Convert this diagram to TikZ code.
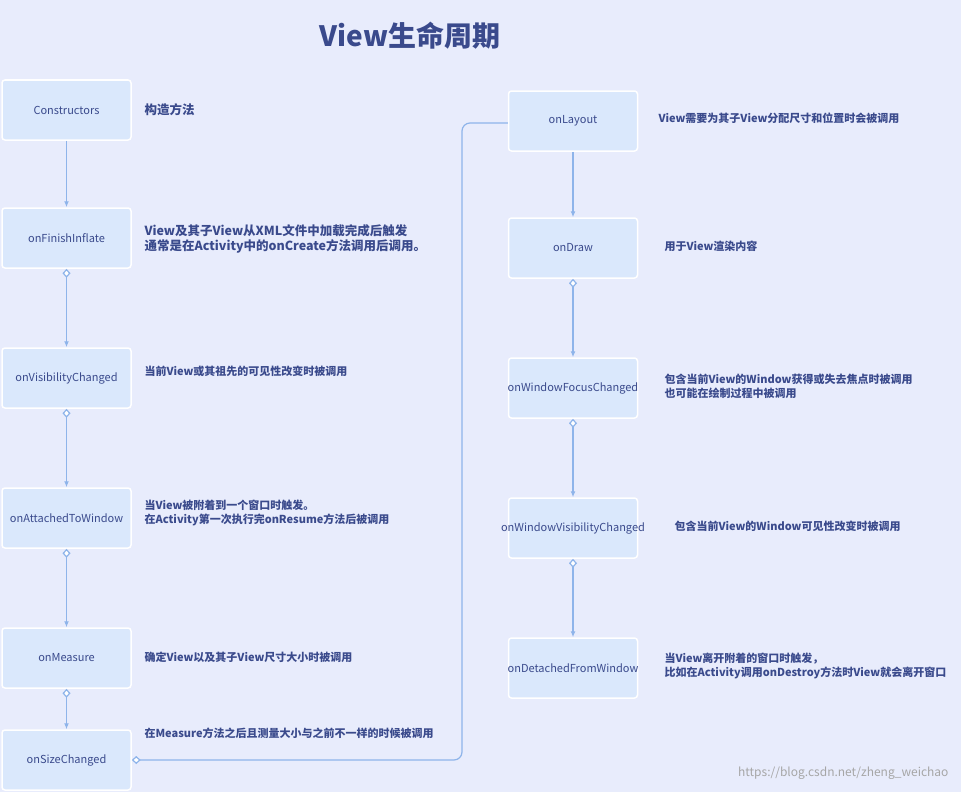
\documentclass[tikz,border=0pt]{standalone}
\usepackage{fontspec}
\setmainfont{Noto Sans CJK SC}
\usetikzlibrary{arrows.meta}
\definecolor{bgcol}{HTML}{E8ECFC}
\definecolor{boxcol}{HTML}{DAE8FC}
\definecolor{txtcol}{HTML}{3A4A8C}
\definecolor{linecol}{HTML}{8EB4EA}
\newcommand\stagetext[1]{\makebox[129pt][c]{#1}}
\tikzset{
  stage/.style={draw=white, line width=1.5pt, fill=boxcol, rounded corners=3pt,
    inner xsep=0pt, minimum width=129pt,
    minimum height=60pt, text=txtcol, font=\fontsize{11}{13}\selectfont},
  note/.style={anchor=west, align=left, text=txtcol, font=\fontsize{11}{14}\selectfont\bfseries},
  flow/.style={draw=linecol, line width=1.2pt, -{Latex[length=6pt,width=5pt]}},
  dflow/.style={flow, {Diamond[open,length=9pt,width=8pt,fill=white]}-{Latex[length=6pt,width=5pt]}},
}
\begin{document}
\begin{tikzpicture}[x=1pt,y=-1pt]
\fill[bgcol] (0,0) rectangle (961,792);
\useasboundingbox (0,0) rectangle (961,792);

\node[text=txtcol, font=\fontsize{28}{30}\selectfont\bfseries] (title) at (410,36) {View生命周期};

% left column
\node[stage] (ctor) at (66.5,110) {\stagetext{Constructors}};
\node[stage] (inflate) at (66.5,238) {\stagetext{onFinishInflate}};
\node[stage] (visible) at (66.5,378) {\stagetext{onVisibilityChanged}};
\node[stage] (attach) at (66.5,518) {\stagetext{onAttachedToWindow}};
\node[stage] (measure) at (66.5,658) {\stagetext{onMeasure}};
\node[stage] (size) at (66.5,760) {\stagetext{onSizeChanged}};

% right column
\node[stage] (layout) at (573,121) {\stagetext{onLayout}};
\node[stage] (draw) at (573,248) {\stagetext{onDraw}};
\node[stage] (focus) at (573,388) {\stagetext{onWindowFocusChanged}};
\node[stage] (winvis) at (573,528) {\stagetext{onWindowVisibilityChanged}};
\node[stage] (detach) at (573,668) {\stagetext{onDetachedFromWindow}};

% notes
\node[note, font=\fontsize{12.5}{15}\selectfont\bfseries] (nctor) at (141,110) {构造方法};
\node[note, font=\fontsize{12.5}{15}\selectfont\bfseries] (ninflate) at (141,239) {View及其子View从XML文件中加载完成后触发\\通常是在Activity中的onCreate方法调用后调用。};
\node[note] (nvisible) at (141,371) {当前View或其祖先的可见性改变时被调用};
\node[note] (nattach) at (141,513) {当View被附着到一个窗口时触发。\\在Activity第一次执行完onResume方法后被调用};
\node[note] (nmeasure) at (141,657) {确定View以及其子View尺寸大小时被调用};
\node[note] (nsize) at (141,733) {在Measure方法之后且测量大小与之前不一样的时候被调用};
\node[note] (nlayout) at (655,118) {View需要为其子View分配尺寸和位置时会被调用};
\node[note] (ndraw) at (661,246) {用于View渲染内容};
\node[note] (nfocus) at (661,386) {包含当前View的Window获得或失去焦点时被调用\\也可能在绘制过程中被调用};
\node[note] (nwinvis) at (671,526) {包含当前View的Window可见性改变时被调用};
\node[note] (ndetach) at (661,666) {当View离开附着的窗口时触发，\\比如在Activity调用onDestroy方法时View就会离开窗口};

% connectors
\draw[flow] (ctor.south) -- (inflate.north);
\draw[dflow] (inflate.south) -- (visible.north);
\draw[dflow] (visible.south) -- (attach.north);
\draw[dflow] (attach.south) -- (measure.north);
\draw[dflow] (measure.south) -- (size.north);
\draw[draw=linecol, line width=1.2pt, {Diamond[open,length=9pt,width=8pt,fill=white]}-, rounded corners=8pt] (size.east) -- (462,760) -- (462,123) -- (layout.west |- 0,123);
\draw[flow] (layout.south) -- (draw.north);
\draw[dflow] (draw.south) -- (focus.north);
\draw[dflow] (focus.south) -- (winvis.north);
\draw[dflow] (winvis.south) -- (detach.north);

\node[anchor=east, text=gray!70, font=\fontsize{12}{14}\selectfont] (mark) at (952,773) {https://blog.csdn.net/zheng\_weichao};
\end{tikzpicture}
\end{document}
